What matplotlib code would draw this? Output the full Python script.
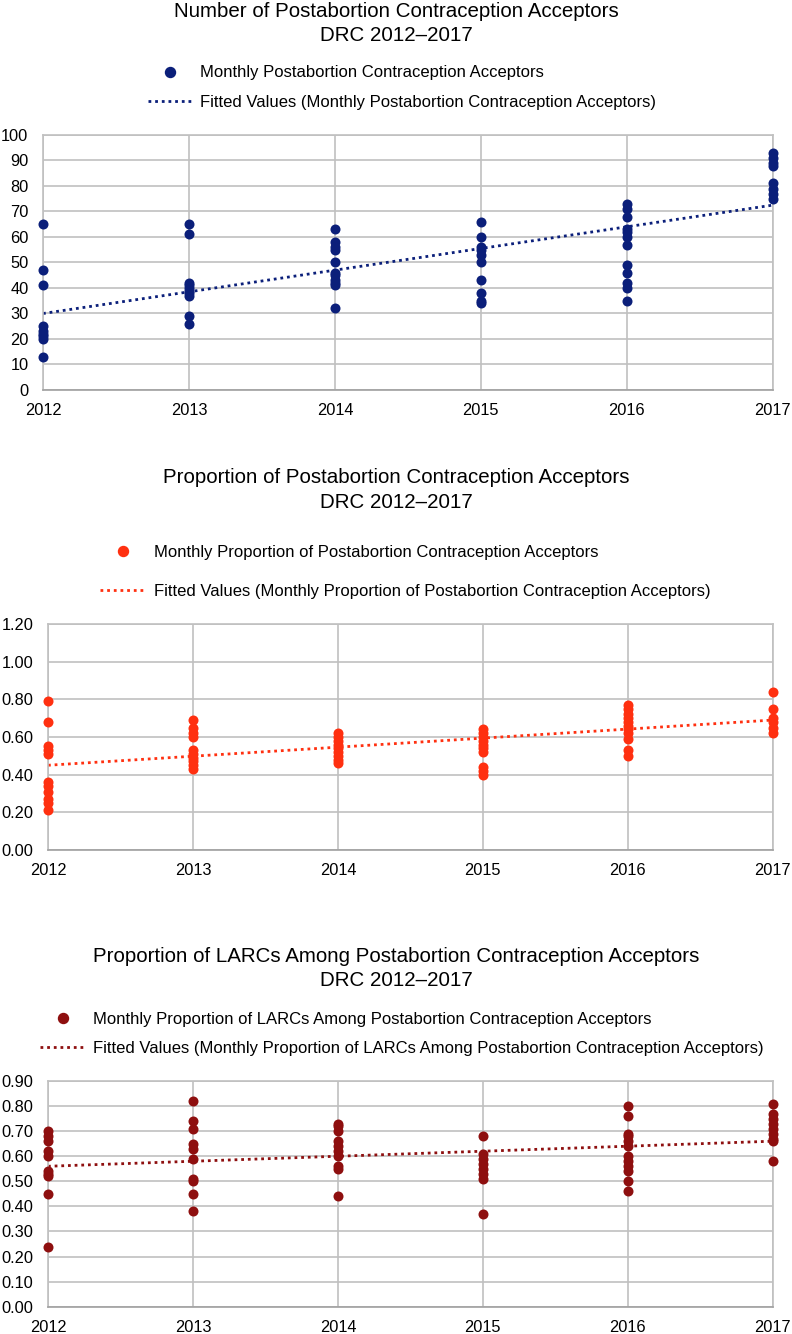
import matplotlib
matplotlib.use('Agg')
import matplotlib.pyplot as plt
from matplotlib.lines import Line2D
from matplotlib.ticker import FormatStrFormatter
import numpy as np

plt.rcParams['font.family'] = ['Liberation Sans', 'DejaVu Sans']

years = [2012, 2013, 2014, 2015, 2016, 2017]

# panel 1: monthly number of acceptors, grouped by year
acceptors = {
    2012: [65, 47, 41, 25, 23, 22, 21, 20, 13],
    2013: [65, 61, 42, 41, 40, 39, 38, 37, 29, 26],
    2014: [63, 58, 56, 55, 50, 46, 45, 43, 42, 41, 32],
    2015: [66, 60, 56, 55, 53, 50, 43, 38, 35, 34],
    2016: [73, 71, 68, 63, 62, 60, 57, 49, 46, 42, 40, 35],
    2017: [93, 91, 89, 88, 81, 79, 77, 75],
}
acceptors_fit = [30.0, 72.5]

# panel 2: monthly proportion of acceptors
proportion = {
    2012: [0.79, 0.68, 0.55, 0.53, 0.51, 0.36, 0.34, 0.31, 0.27, 0.25, 0.21],
    2013: [0.69, 0.65, 0.62, 0.60, 0.53, 0.51, 0.49, 0.47, 0.45, 0.43],
    2014: [0.62, 0.60, 0.58, 0.56, 0.54, 0.52, 0.50, 0.48, 0.46],
    2015: [0.64, 0.62, 0.60, 0.58, 0.56, 0.54, 0.52, 0.44, 0.42, 0.40],
    2016: [0.77, 0.75, 0.72, 0.70, 0.68, 0.66, 0.64, 0.62, 0.59, 0.53, 0.50],
    2017: [0.84, 0.75, 0.70, 0.68, 0.65, 0.62],
}
proportion_fit = [0.45, 0.69]

# panel 3: monthly proportion of LARCs
larcs = {
    2012: [0.70, 0.68, 0.66, 0.62, 0.60, 0.54, 0.53, 0.52, 0.45, 0.24],
    2013: [0.82, 0.74, 0.71, 0.65, 0.63, 0.59, 0.51, 0.50, 0.45, 0.38],
    2014: [0.73, 0.72, 0.70, 0.66, 0.64, 0.62, 0.60, 0.56, 0.55, 0.44],
    2015: [0.68, 0.61, 0.59, 0.57, 0.55, 0.53, 0.51, 0.37],
    2016: [0.80, 0.76, 0.69, 0.68, 0.66, 0.64, 0.60, 0.58, 0.56, 0.54, 0.50, 0.46],
    2017: [0.81, 0.77, 0.75, 0.73, 0.71, 0.69, 0.67, 0.66, 0.58],
}
larcs_fit = [0.56, 0.66]

W, H = 792, 1334
fig = plt.figure(figsize=(W / 100, H / 100), dpi=100)
grid_c = '#c0c0c0'


def fy(py):
    return 1 - py / H


def panel(rect, data, fit, color, ylim, yticks, fmt, title, lab1, lab2,
          title_y, leg_x, leg_y, spacing, hlen):
    ax = fig.add_axes([rect[0] / W, fy(rect[3]), (rect[2] - rect[0]) / W, (rect[3] - rect[1]) / H])
    for yr in years:
        ax.scatter([yr] * len(data[yr]), data[yr], s=52, color=color, zorder=3,
                   linewidths=0, clip_on=False)
    ax.plot([years[0], years[-1]], fit, color=color, lw=2.0,
            linestyle=(0, (1, 1.4)), zorder=2)
    ax.set_xlim(years[0], years[-1])
    ax.set_ylim(*ylim)
    ax.set_xticks(years)
    ax.set_yticks(yticks)
    if fmt:
        ax.yaxis.set_major_formatter(FormatStrFormatter(fmt))
    ax.grid(True, color=grid_c, lw=1.2)
    ax.set_axisbelow(True)
    for s in ax.spines.values():
        s.set_color(grid_c)
        s.set_linewidth(1.2)
    ax.spines['bottom'].set_color('#a0a0a0')
    ax.tick_params(length=0, labelsize=11.8, colors='black')
    ax.tick_params(axis='x', pad=9.5)
    ax.tick_params(axis='y', pad=10.5)
    fig.text(0.5, fy(title_y), title, ha='center', va='center', fontsize=14.8,
             linespacing=1.34)
    handles = [Line2D([], [], ls='none', marker='o', ms=7.2, color=color, mec=color),
               Line2D([], [], color=color, lw=2.0, ls=(0, (1, 1.4)))]
    ax.legend(handles, [lab1, lab2], loc='center left',
              bbox_to_anchor=(leg_x / W, fy(leg_y)), bbox_transform=fig.transFigure,
              frameon=False, borderpad=0, borderaxespad=0, handlelength=hlen,
              handletextpad=0.5, labelspacing=spacing, fontsize=12)
    return ax


panel((43, 135, 772.7, 390), acceptors, acceptors_fit, '#0b1f7a', (0, 100),
      range(0, 101, 10), None,
      'Number of Postabortion Contraception Acceptors\nDRC 2012\u20132017',
      'Monthly Postabortion Contraception Acceptors',
      'Fitted Values (Monthly Postabortion Contraception Acceptors)',
      23.5, 148, 87.5, 0.86, 2.65)

panel((48, 624, 772.7, 850), proportion, proportion_fit, '#ff3010', (0, 1.2),
      np.arange(0, 1.21, 0.2), '%.2f',
      'Proportion of Postabortion Contraception Acceptors\nDRC 2012\u20132017',
      'Monthly Proportion of Postabortion Contraception Acceptors',
      'Fitted Values (Monthly Proportion of Postabortion Contraception Acceptors)',
      490, 100, 572, 1.4, 2.75)

panel((48, 1081, 772.7, 1306.7), larcs, larcs_fit, '#8e0f0f', (0, 0.9),
      np.arange(0, 0.91, 0.1), '%.2f',
      'Proportion of LARCs Among Postabortion Contraception Acceptors\nDRC 2012\u20132017',
      'Monthly Proportion of LARCs Among Postabortion Contraception Acceptors',
      'Fitted Values (Monthly Proportion of LARCs Among Postabortion Contraception Acceptors)',
      968.5, 40, 1034, 0.86, 2.7)

fig.savefig('out.png', dpi=100)
